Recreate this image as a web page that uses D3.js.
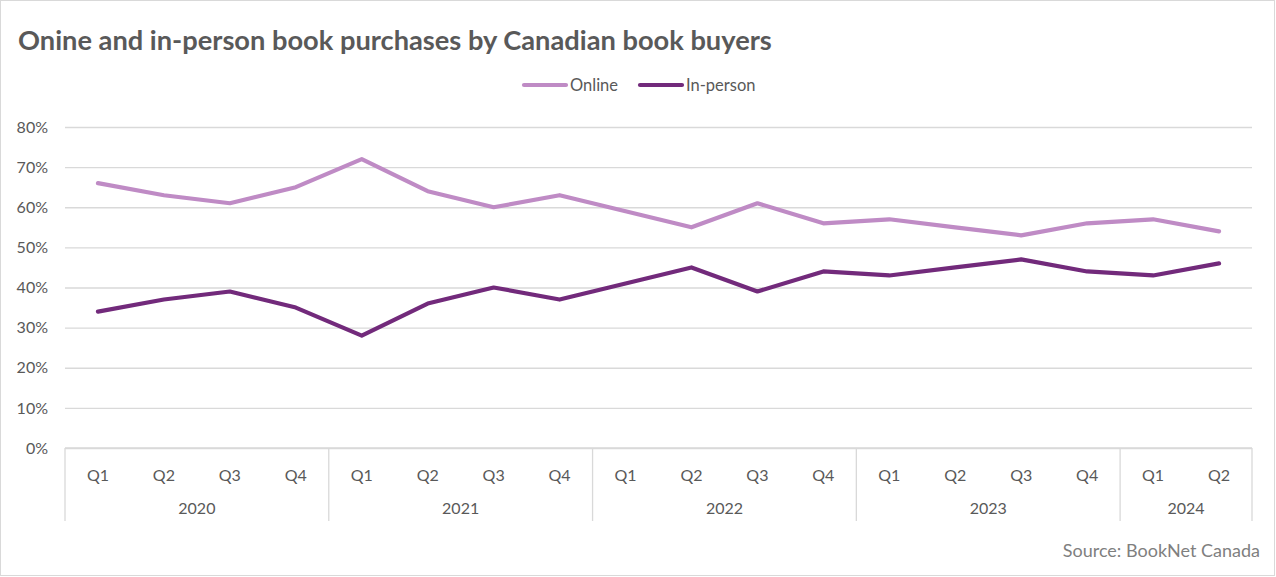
<!DOCTYPE html>
<html><head><meta charset="utf-8">
<script src="https://cdn.jsdelivr.net/npm/d3@7"></script>
<style>body{margin:0;background:#fff;} svg{display:block;} text{font-family:Lato,"Open Sans",sans-serif;}</style>
</head><body>
<svg id="c" width="1276" height="577"></svg>
<script>
const years = ["2020","2021","2022","2023","2024"];
const quarters = ["Q1","Q2","Q3","Q4","Q1","Q2","Q3","Q4","Q1","Q2","Q3","Q4","Q1","Q2","Q3","Q4","Q1","Q2"];
const quarterYears = ["2020","2020","2020","2020","2021","2021","2021","2021","2022","2022","2022","2022","2023","2023","2023","2023","2024","2024"];
const online = [66,63,61,65,72,64,60,63,59,55,61,56,57,55,53,56,57,54];
const inPerson = [34,37,39,35,28,36,40,37,41,45,39,44,43,45,47,44,43,46];
const yTicks = [0,10,20,30,40,50,60,70,80];
const seriesNames = ["Online","In-person"];
const colors = ["#bf8bc5","#722a7b"];

(function(){
const svg = d3.select("#c");
const W = 1276, H = 577;
const pLeft = 65, pRight = 1252, pTop = 127, pBottom = 448;
const txt = "#595959", grid = "#d9d9d9";

svg.append("rect").attr("x",0.5).attr("y",0.5).attr("width",W-2).attr("height",H-2)
  .attr("fill","#fff").attr("stroke","#d9d9d9");

const idx = d3.range(quarters.length);
const x = d3.scaleBand().domain(idx).range([pLeft,pRight]).paddingInner(0).paddingOuter(0);
const y = d3.scaleLinear().domain([0,80]).range([pBottom,pTop]);

// Title
const title = svg.append("text").attr("x",18).attr("y",50).attr("fill",txt)
  .attr("font-weight","bold").attr("font-size",22).text("Onine and in-person book purchases by Canadian book buyers");
const tw = title.node().getComputedTextLength(); title.attr("font-size", 22*754/tw);

// Gridlines + y labels
const yAxis = d3.axisLeft(y).tickValues(yTicks).tickFormat(d=>d+"%").tickSize(-(pRight-pLeft)).tickPadding(17);
const ga = svg.append("g").attr("transform",`translate(${pLeft},0)`).call(yAxis);
ga.select(".domain").remove();
ga.selectAll(".tick line").attr("stroke",grid).attr("stroke-width",1.3);
ga.selectAll(".tick text").attr("fill",txt).attr("font-size",16).attr("font-family","Lato,sans-serif");

// x axis line
svg.append("line").attr("x1",pLeft).attr("x2",pRight).attr("y1",pBottom).attr("y2",pBottom).attr("stroke",grid).attr("stroke-width",1.3);

// quarter labels
svg.append("g").selectAll("text").data(idx).join("text")
  .attr("x",d=>x(d)+x.bandwidth()/2).attr("y",481).attr("text-anchor","middle")
  .attr("fill",txt).attr("font-size",16).text(d=>quarters[d]);

// year groups
const groups = years.map(yr=>{ const ids = idx.filter(i=>quarterYears[i]===yr); return {yr, a:x(ids[0]), b:x(ids[ids.length-1])+x.bandwidth()}; });
const bounds = [groups[0].a].concat(groups.map(g=>g.b));
svg.append("g").selectAll("line").data(bounds).join("line")
  .attr("x1",d=>d).attr("x2",d=>d).attr("y1",pBottom).attr("y2",521).attr("stroke",grid).attr("stroke-width",1.3);
svg.append("g").selectAll("text").data(groups).join("text")
  .attr("x",g=>(g.a+g.b)/2).attr("y",514).attr("text-anchor","middle")
  .attr("fill",txt).attr("font-size",16).text(g=>g.yr);

// lines
const line = d3.line().x((d,i)=>x(i)+x.bandwidth()/2).y(d=>y(d));
[online,inPerson].forEach((s,k)=>{
  svg.append("path").datum(s).attr("d",line).attr("fill","none")
    .attr("stroke",colors[k]).attr("stroke-width",4.2).attr("stroke-linejoin","round").attr("stroke-linecap","round");
});

// legend
const lg = [{x:524,name:seriesNames[0],c:colors[0]},{x:640,name:seriesNames[1],c:colors[1]}];
lg.forEach(l=>{
  svg.append("line").attr("x1",l.x).attr("x2",l.x+42).attr("y1",85).attr("y2",85).attr("stroke",l.c).attr("stroke-width",4.2).attr("stroke-linecap","round");
  svg.append("text").attr("x",l.x+46).attr("y",90.5).attr("fill",txt).attr("font-size",16.5).text(l.name);
});

// source
svg.append("text").attr("x",1260).attr("y",557).attr("text-anchor","end").attr("fill","#7f7f7f")
  .attr("font-size",18).text("Source: BookNet Canada");
})();
</script>
</body></html>
